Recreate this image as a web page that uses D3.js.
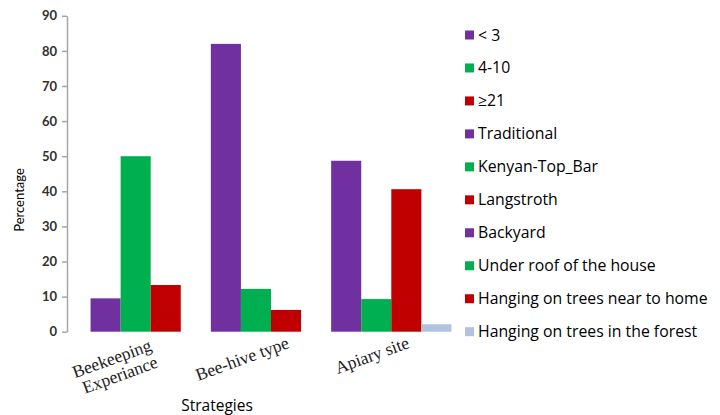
<!DOCTYPE html>
<html>
<head>
<meta charset="utf-8">
<script src="https://cdn.jsdelivr.net/npm/d3@7"></script>
<style>
  html, body { margin: 0; padding: 0; background: #fff; }
  svg { display: block; }
</style>
</head>
<body>
<svg id="chart" width="720" height="415"></svg>
<script>
// ---- data ----
const categories = ["Beekeeping Experiance", "Bee-hive type", "Apiary site"];
const categoryLines = [["Beekeeping", "Experiance"], ["Bee-hive type"], ["Apiary site"]];
const seriesNames = ["< 3", "4-10", "\u226521", "Traditional", "Kenyan-Top_Bar", "Langstroth",
  "Backyard", "Under roof of the house", "Hanging on trees near to home", "Hanging on trees in the forest"];
const seriesCategory = [0, 0, 0, 1, 1, 1, 2, 2, 2, 2];
const seriesSlot = [0, 1, 2, 0, 1, 2, 0, 1, 2, 3];
const values = [9.5, 50, 13.3, 82, 12.2, 6.2, 48.7, 9.3, 40.6, 2.1];
const yTicks = [0, 10, 20, 30, 40, 50, 60, 70, 80, 90];
const slotColors = ["#7030A0", "#00B050", "#C00000", "#B0C2E0"];

// ---- layout ----
const svg = d3.select("#chart");
const plotLeft = 67, plotRight = 475, plotTop = 15.8, plotBottom = 331.7;

const y = d3.scaleLinear().domain([0, 90]).range([plotBottom, plotTop]);
const x0 = d3.scaleBand().domain(categories).range([plotLeft, plotRight])
  .paddingInner(0).paddingOuter(0.1958);
const x1 = d3.scaleBand().domain([0, 1, 2, 3]).range([0, x0.bandwidth()]).padding(0);

// y axis
const yAxis = d3.axisLeft(y).tickValues(yTicks).tickSize(5).tickSizeOuter(0).tickPadding(5)
  .tickFormat(d3.format("d"));
const gy = svg.append("g").attr("transform", `translate(${plotLeft},0)`).call(yAxis);
gy.select(".domain").attr("stroke", "#A6A6A6").attr("stroke-width", 1.5);
gy.selectAll(".tick line").attr("stroke", "#A6A6A6").attr("stroke-width", 1.5);
gy.selectAll(".tick text").attr("font-family", "Lato, sans-serif").attr("font-size", 13)
  .attr("fill", "#303030").attr("font-weight", "bold");

// bars
const bars = values.map((v, i) => ({ v, cat: categories[seriesCategory[i]], slot: seriesSlot[i] }));
svg.append("g").selectAll("rect").data(bars).join("rect")
  .attr("x", d => x0(d.cat) + x1(d.slot))
  .attr("width", x1.bandwidth())
  .attr("y", d => y(d.v))
  .attr("height", d => y(0) - y(d.v))
  .attr("fill", d => slotColors[d.slot]);

// category labels (rotated)
const labelG = svg.append("g");
categoryLines.forEach((lines, i) => {
  const cx = x0(categories[i]) + x0.bandwidth() / 2;
  const multi = lines.length > 1;
  const ax = cx + (multi ? 2 : 19);
  const ay = multi ? 350 : 347.5;
  const t = labelG.append("text")
    .attr("transform", `translate(${ax},${ay}) rotate(-20)`)
    .attr("text-anchor", "end")
    .attr("font-family", "'Liberation Serif', 'Times New Roman', serif")
    .attr("font-size", 17.5)
    .attr("fill", "#222");
  lines.forEach((ln, j) => {
    t.append("tspan").attr("x", 0).attr("y", j * 18).text(ln);
  });
});

// axis titles
svg.append("text")
  .attr("transform", "translate(24,200) rotate(-90)")
  .attr("text-anchor", "middle")
  .attr("font-family", "Lato, sans-serif").attr("font-size", 13)
  .attr("fill", "#000").text("Percentage");
svg.append("text")
  .attr("x", 217).attr("y", 411)
  .attr("text-anchor", "middle")
  .attr("font-family", "'Open Sans', sans-serif").attr("font-size", 15.5)
  .attr("fill", "#000").text("Strategies");

// legend
const legendY = d3.scalePoint().domain(d3.range(seriesNames.length)).range([35, 331.7]);
const lg = svg.append("g").selectAll("g").data(seriesNames).join("g")
  .attr("transform", (d, i) => `translate(465,${legendY(i)})`);
lg.append("rect").attr("x", 0).attr("y", -4.5).attr("width", 9).attr("height", 9)
  .attr("fill", (d, i) => slotColors[seriesSlot[i]]);
lg.append("text").attr("x", 13).attr("y", 5.5)
  .attr("font-family", "'Open Sans', sans-serif").attr("font-size", 15.8)
  .attr("fill", "#000").text(d => d);
</script>
</body>
</html>
